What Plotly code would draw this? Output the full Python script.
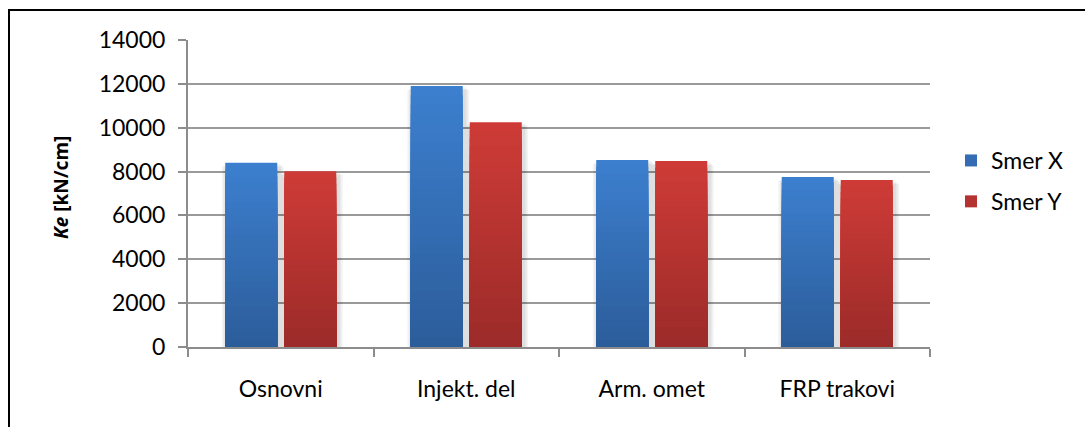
import plotly.graph_objects as go

# Stiffness Ke per strengthening variant, two loading directions
categories = ["Osnovni", "Injekt. del", "Arm. omet", "FRP trakovi"]
smer_x = [8400, 11900, 8530, 7750]
smer_y = [8020, 10250, 8480, 7610]
y_ticks = [0, 2000, 4000, 6000, 8000, 10000, 12000, 14000]

FONT = "Lato"
W, H = 1085, 427
L, R, T, B = 188, 155, 40, 80
plot_w = W - L - R
plot_h = H - T - B

cat_px = plot_w / len(categories)
bar_w = 52 / cat_px            # bar width in category units
off_x = -55.5 / cat_px         # left edge of the X bar relative to the category centre
off_y = 3.5 / cat_px           # left edge of the Y bar

# light top -> dark bottom shading for each series
series = [
    ("Smer X", smer_x, off_x, (60, 127, 206), (44, 93, 155)),
    ("Smer Y", smer_y, off_y, (206, 59, 55), (156, 43, 41)),
]
STEPS = 28

fig = go.Figure()

# soft drop shadow behind the bars
for name, vals, off, top, bot in series:
    for i, extra in enumerate([10, 7, 4]):
        ex = extra / cat_px
        fig.add_trace(go.Bar(
            x=categories, y=[v - 60 * (3 - i) for v in vals],
            width=bar_w + ex, offset=off - ex / 2 + 1.5 / cat_px,
            marker=dict(color="rgba(0,0,0,0.045)", line=dict(width=0)),
            showlegend=False, hoverinfo="skip",
        ))

# shaded bars, drawn as nested layers from full height down
for name, vals, off, top, bot in series:
    for k in range(STEPS):
        t = k / (STEPS - 1)
        c = tuple(round(top[j] + (bot[j] - top[j]) * t) for j in range(3))
        frac = (STEPS - k) / STEPS
        fig.add_trace(go.Bar(
            x=categories, y=[v * frac for v in vals],
            width=bar_w, offset=off,
            marker=dict(color="rgb(%d,%d,%d)" % c, line=dict(width=0)),
            name=name, legendgroup=name,
            showlegend=(k == STEPS // 2),
            hovertemplate="%{x}: %{customdata}<extra>" + name + "</extra>",
            customdata=vals,
        ))

fig.update_layout(
    width=W, height=H,
    margin=dict(l=L, r=R, t=T, b=B),
    paper_bgcolor="white", plot_bgcolor="white",
    barmode="overlay",
    font=dict(family=FONT, size=23, color="black"),
    showlegend=True,
    legend=dict(
        x=(951 - L) / plot_w, xanchor="left",
        y=(H - B - 139) / plot_h, yanchor="top",
        font=dict(family=FONT, size=23, color="black"),
        tracegroupgap=8, bgcolor="rgba(0,0,0,0)",
    ),
    xaxis=dict(
        type="category", range=[-0.5, len(categories) - 0.5],
        showline=True, linecolor="#8c8c8c", linewidth=2,
        ticks="outside", tickson="boundaries", ticklen=8,
        tickcolor="#8c8c8c", tickwidth=2,
        showgrid=False, zeroline=False,
        tickfont=dict(family=FONT, size=23, color="black"),
        ticklabelstandoff=20,
    ),
    yaxis=dict(
        range=[0, 14000], tickvals=y_ticks,
        ticktext=[str(v) for v in y_ticks],
        showline=True, linecolor="#8c8c8c", linewidth=2,
        ticks="outside", ticklen=8, tickcolor="#8c8c8c", tickwidth=2,
        showgrid=True, gridcolor="#9a9a9a", gridwidth=2,
        zeroline=False,
        tickfont=dict(family=FONT, size=23, color="black"),
        ticklabelstandoff=8,
    ),
    annotations=[dict(
        text="<i>Ke</i> [kN/cm]",
        xref="paper", yref="paper",
        x=(61 - L) / plot_w, y=(H - B - 187) / plot_h,
        xanchor="center", yanchor="middle", textangle=-90,
        showarrow=False,
        font=dict(family="Noto Sans", size=19, color="black", weight="bold"),
    )],
    shapes=[dict(
        type="rect", xref="paper", yref="paper", layer="above",
        x0=(9 - L) / plot_w, x1=1.4,
        y0=-0.6, y1=(H - B - 10) / plot_h,
        line=dict(color="black", width=2), fillcolor="rgba(0,0,0,0)",
    )],
)

fig.write_html("out.html")
